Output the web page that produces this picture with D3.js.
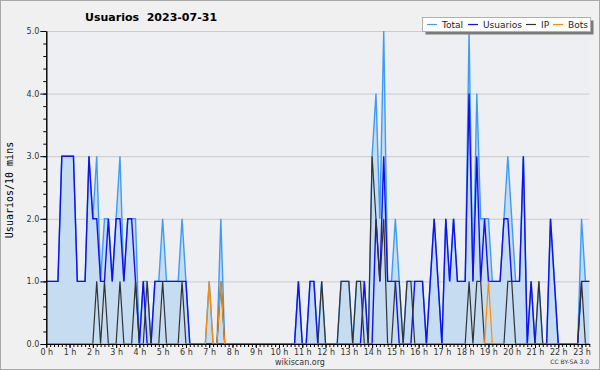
<!DOCTYPE html>
<html>
<head>
<meta charset="utf-8">
<script src="https://cdn.jsdelivr.net/npm/d3@7"></script>
<style>
  html, body { margin: 0; padding: 0; background: #f0f0f0; }
  svg { display: block; font-family: "DejaVu Sans", sans-serif; }
</style>
</head>
<body>
<div id="chart"></div>
<script>
// one value per 10 minute slot, from 00:00 to 23:20
const total = [
  1,1,1,1,3,3,3,3,1,1, 1,3,2,3,1,2,2,1,2,3, 1,2,2,2,0,1,1,0,1,1,
  2,1,1,1,1,2,1,0,0,0, 0,0,1,0,0,2,0,0,0,0, 0,0,0,0,0,0,0,0,0,0,
  0,0,0,0,0,1,0,0,1,1, 0,1,0,0,0,0,1,1,1,0, 1,1,1,0,3,4,2,5,1,1,
  2,1,0,1,1,1,1,1,0,1, 2,1,0,2,1,2,1,1,1,5, 1,4,2,2,2,1,1,1,2,3,
  2,1,1,3,0,1,0,1,0,0, 2,1,0,0,0,0,0,0,2,1, 1
];
const usuarios = [
  1,1,1,1,3,3,3,3,1,1, 1,3,2,2,1,1,2,1,2,2, 1,2,2,1,0,1,0,0,1,1,
  1,1,1,1,1,1,1,0,0,0, 0,0,0,0,0,0,0,0,0,0, 0,0,0,0,0,0,0,0,0,0,
  0,0,0,0,0,1,0,0,1,1, 0,0,0,0,0,0,0,0,0,0, 0,0,1,0,0,2,1,3,1,1,
  1,0,0,0,0,1,1,1,0,1, 2,1,0,2,1,2,1,1,1,4, 1,3,1,2,1,1,1,1,2,2,
  1,1,1,3,0,1,0,0,0,0, 2,1,0,0,0,0,0,0,1,1, 1
];
const ip = [
  0,0,0,0,0,0,0,0,0,0, 0,0,0,1,0,1,0,0,0,1, 0,0,0,1,0,0,1,0,0,0,
  1,0,0,0,0,1,0,0,0,0, 0,0,0,0,0,1,0,0,0,0, 0,0,0,0,0,0,0,0,0,0,
  0,0,0,0,0,0,0,0,0,0, 0,1,0,0,0,0,1,1,1,0, 1,1,0,0,3,2,1,2,0,0,
  1,1,0,1,1,0,0,0,0,0, 0,0,0,0,0,0,0,0,0,1, 0,1,1,0,0,0,0,0,0,1,
  1,0,0,0,0,0,0,1,0,0, 0,0,0,0,0,0,0,0,1,0, 0
];
const bots = [
  0,0,0,0,0,0,0,0,0,0, 0,0,0,0,0,0,0,0,0,0, 0,0,0,0,0,0,0,0,0,0,
  0,0,0,0,0,0,0,0,0,0, 0,0,1,0,0,1,0,0,0,0, 0,0,0,0,0,0,0,0,0,0,
  0,0,0,0,0,0,0,0,0,0, 0,0,0,0,0,0,0,0,0,0, 0,0,0,0,0,0,0,0,0,0,
  0,0,0,0,0,0,0,0,0,0, 0,0,0,0,0,0,0,0,0,0, 0,0,0,0,1,0,0,0,0,0,
  0,0,0,0,0,0,0,0,0,0, 0,0,0,0,0,0,0,0,0,0, 0
];
const yTicks = [0, 1, 2, 3, 4, 5];
const hourLabels = ["0 h","1 h","2 h","3 h","4 h","5 h","6 h","7 h","8 h","9 h","10 h","11 h",
  "12 h","13 h","14 h","15 h","16 h","17 h","18 h","19 h","20 h","21 h","22 h","23 h"];

const series = [
  { name: "Total", values: total, color: "#3d9cf5", width: 1.4 },
  { name: "Usuarios", values: usuarios, color: "#1010f0", width: 1.4 },
  { name: "IP", values: ip, color: "#333333", width: 1.2 },
  { name: "Bots", values: bots, color: "#ff8c00", width: 1.2 }
];

const W = 600, H = 370;
const plotLeft = 46.3, plotRight = 589.3, plotTop = 31, plotBottom = 344;

const svg = d3.select("#chart").append("svg")
  .attr("width", W).attr("height", H);

// fondo y borde
svg.append("rect").attr("x", 0.5).attr("y", 0.5).attr("width", W - 1).attr("height", H - 1)
  .attr("fill", "#f0f0f0").attr("stroke", "#a8a8a8");
svg.append("rect").attr("x", plotLeft).attr("y", plotTop)
  .attr("width", plotRight - plotLeft).attr("height", plotBottom - plotTop)
  .attr("fill", "#eeeff2");

const x = d3.scaleLinear().domain([0, total.length - 1]).range([plotLeft, plotRight]);
const y = d3.scaleLinear().domain([0, 5]).range([plotBottom, plotTop]);

// grid
svg.append("g").selectAll("line")
  .data(yTicks.slice(1))
  .join("line")
  .attr("x1", plotLeft).attr("x2", plotRight)
  .attr("y1", d => y(d) + 0.5).attr("y2", d => y(d) + 0.5)
  .attr("stroke", "#cbcbcb");

// area under the total
svg.append("path")
  .datum(total)
  .attr("fill", "#c6dcf0")
  .attr("d", d3.area().x((d, i) => x(i)).y0(y(0)).y1(d => y(d)));

const line = d3.line().x((d, i) => x(i)).y(d => y(d));
svg.append("g").selectAll("path")
  .data(series)
  .join("path")
  .attr("fill", "none")
  .attr("stroke", d => d.color)
  .attr("stroke-width", d => d.width)
  .attr("d", d => line(d.values));

// y axis
svg.append("g").attr("transform", `translate(${plotLeft},0)`)
  .call(d3.axisLeft(y).tickValues(d3.range(0, 5.01, 0.2)).tickSize(3).tickSizeOuter(0).tickFormat(""));
const yAxis = svg.append("g").attr("transform", `translate(${plotLeft},0)`)
  .call(d3.axisLeft(y).tickValues(yTicks).tickSize(6).tickSizeOuter(0).tickPadding(1).tickFormat(d3.format(".1f")));
yAxis.selectAll("text").attr("font-size", 8).attr("fill", "#333").attr("font-family", "DejaVu Sans");

// x axis: small tick every 10 minutes, label each hour
svg.append("g").attr("transform", `translate(0,${plotBottom})`)
  .call(d3.axisBottom(x).tickValues(d3.range(0, total.length)).tickSize(3).tickSizeOuter(0).tickFormat(""));
const xAxis = svg.append("g").attr("transform", `translate(0,${plotBottom})`)
  .call(d3.axisBottom(x).tickValues(hourLabels.map((d, i) => i * 6)).tickSize(4).tickSizeOuter(0)
    .tickPadding(1).tickFormat((d, i) => hourLabels[i]));
xAxis.selectAll("text").attr("font-size", 8).attr("fill", "#333").attr("font-family", "DejaVu Sans");
svg.selectAll(".domain").attr("stroke", "#000");

// title and labels
svg.append("text").attr("x", 85).attr("y", 21)
  .attr("font-size", 11).attr("font-weight", "bold").style("white-space", "pre")
  .text("Usuarios  2023-07-31");

svg.append("text")
  .attr("transform", "translate(13,190) rotate(-90)")
  .attr("text-anchor", "middle")
  .attr("font-family", "DejaVu Sans Mono").attr("font-size", 10)
  .text("Usuarios/10 mins");

svg.append("text").attr("x", 300).attr("y", 365).attr("text-anchor", "middle")
  .attr("font-size", 8).attr("fill", "#333").text("wikiscan.org");
svg.append("text").attr("x", 589).attr("y", 364).attr("text-anchor", "end")
  .attr("font-size", 6).attr("fill", "#333").text("CC BY-SA 3.0");

// legend
const legend = svg.append("g");
legend.append("rect").attr("x", 425.5).attr("y", 20.5).attr("width", 168).attr("height", 14).attr("fill", "#7a7a7a");
legend.append("rect").attr("x", 422.5).attr("y", 17.5).attr("width", 168).attr("height", 14)
  .attr("fill", "#fff").attr("stroke", "#b0b0b0");
const legendX = [427, 468, 526, 553];
const item = legend.selectAll("g.item")
  .data(series)
  .join("g")
  .attr("transform", (d, i) => `translate(${legendX[i]},0)`);
item.append("line").attr("x1", 0).attr("x2", 10).attr("y1", 24.5).attr("y2", 24.5)
  .attr("stroke", d => d.color).attr("stroke-width", 1.2);
item.append("text").attr("x", 15).attr("y", 28).attr("font-size", 9).attr("fill", "#222")
  .text(d => d.name);
</script>
</body>
</html>
